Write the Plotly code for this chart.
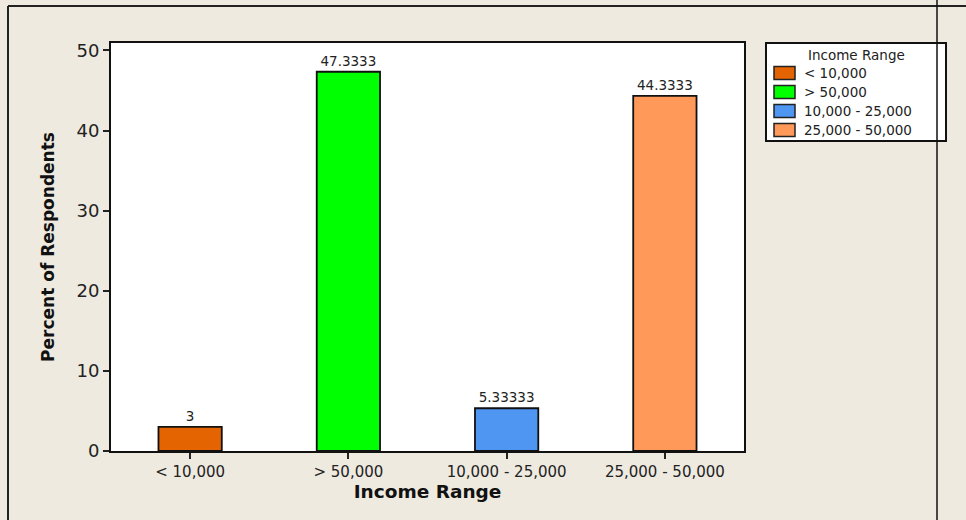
import plotly.graph_objects as go

categories = ["< 10,000", "> 50,000", "10,000 - 25,000", "25,000 - 50,000"]
percents = [3, 47.3333, 5.33333, 44.3333]
labels = ["3", "47.3333", "5.33333", "44.3333"]
colors = ["#E36400", "#00FF00", "#4F95F2", "#FF9959"]
legend_title = "Income Range"

W, H = 966, 520
L, R, T, B = 111, 744, 43, 451
pw, ph = R - L, B - T

def px(x):
    return (x - L) / pw

def py(y):
    return (B - y) / ph

fig = go.Figure()
for c, v, lab, col in zip(categories, percents, labels, colors):
    fig.add_trace(go.Bar(
        x=[c], y=[v], name=c, width=0.4, showlegend=False,
        marker=dict(color=col, line=dict(color="#111111", width=1.8)),
        text=[lab], textposition="outside", cliponaxis=False,
        textfont=dict(family="DejaVu Sans", size=13.5, color="#222222"),
    ))

fig.update_layout(
    width=W, height=H,
    margin=dict(l=L, r=W - R, t=T, b=H - B),
    paper_bgcolor="#EEEAE0", plot_bgcolor="white",
    showlegend=False,
    bargap=0.6,
)
fig.update_xaxes(
    type="category", range=[-0.5, 3.5],
    showline=True, linecolor="#111111", linewidth=2, mirror=True,
    ticks="outside", ticklen=6, tickwidth=1.5, tickcolor="#222222",
    tickfont=dict(family="DejaVu Sans", size=15, color="#222222"),
    title=dict(text="<b>Income Range</b>", standoff=0,
               font=dict(family="DejaVu Sans", size=18.5, color="#111111")),
    showgrid=False,
)
fig.update_yaxes(
    range=[0, 50.92], tickvals=[0, 10, 20, 30, 40, 50],
    showline=True, linecolor="#111111", linewidth=2, mirror=True,
    ticks="outside", ticklen=6, tickwidth=1.5, tickcolor="#222222",
    tickfont=dict(family="DejaVu Sans", size=18, color="#222222"),
    title=dict(text="<b>Percent of Respondents</b>", standoff=18,
               font=dict(family="DejaVu Sans", size=17, color="#111111")),
    showgrid=False, zeroline=False,
)

# legend box (drawn below so the frame line can cross it)
fig.add_shape(type="rect", xref="paper", yref="paper", layer="below",
              x0=px(766), x1=px(946), y0=py(141), y1=py(43),
              fillcolor="white", line=dict(color="#111111", width=2))
fig.add_annotation(xref="paper", yref="paper", x=px(856), y=py(55),
                   text=legend_title, showarrow=False, xanchor="center", yanchor="middle",
                   font=dict(family="DejaVu Sans", size=13.5, color="#222222"))
for i, (c, col) in enumerate(zip(categories, colors)):
    yc = 73 + 19 * i
    fig.add_shape(type="rect", xref="paper", yref="paper",
                  x0=px(774), x1=px(795), y0=py(yc + 6.5), y1=py(yc - 6.5),
                  fillcolor=col, line=dict(color="#222222", width=1.5))
    fig.add_annotation(xref="paper", yref="paper", x=px(802), y=py(yc),
                       text=c, showarrow=False, xanchor="left", yanchor="middle",
                       font=dict(family="DejaVu Sans", size=13.5, color="#222222"))

# outer frame lines
fig.add_shape(type="line", xref="paper", yref="paper", layer="above",
              x0=px(8), x1=px(970), y0=py(6), y1=py(6),
              line=dict(color="#222222", width=2))
fig.add_shape(type="line", xref="paper", yref="paper", layer="above",
              x0=px(8), x1=px(8), y0=py(6), y1=py(524),
              line=dict(color="#222222", width=2))
fig.add_shape(type="line", xref="paper", yref="paper", layer="above",
              x0=px(937), x1=px(937), y0=py(-4), y1=py(524),
              line=dict(color="#111111", width=1.5))

fig.write_html("out.html", config={"displayModeBar": False},
               post_script="document.body.style.margin='0';document.body.style.background='#EEEAE0';")
